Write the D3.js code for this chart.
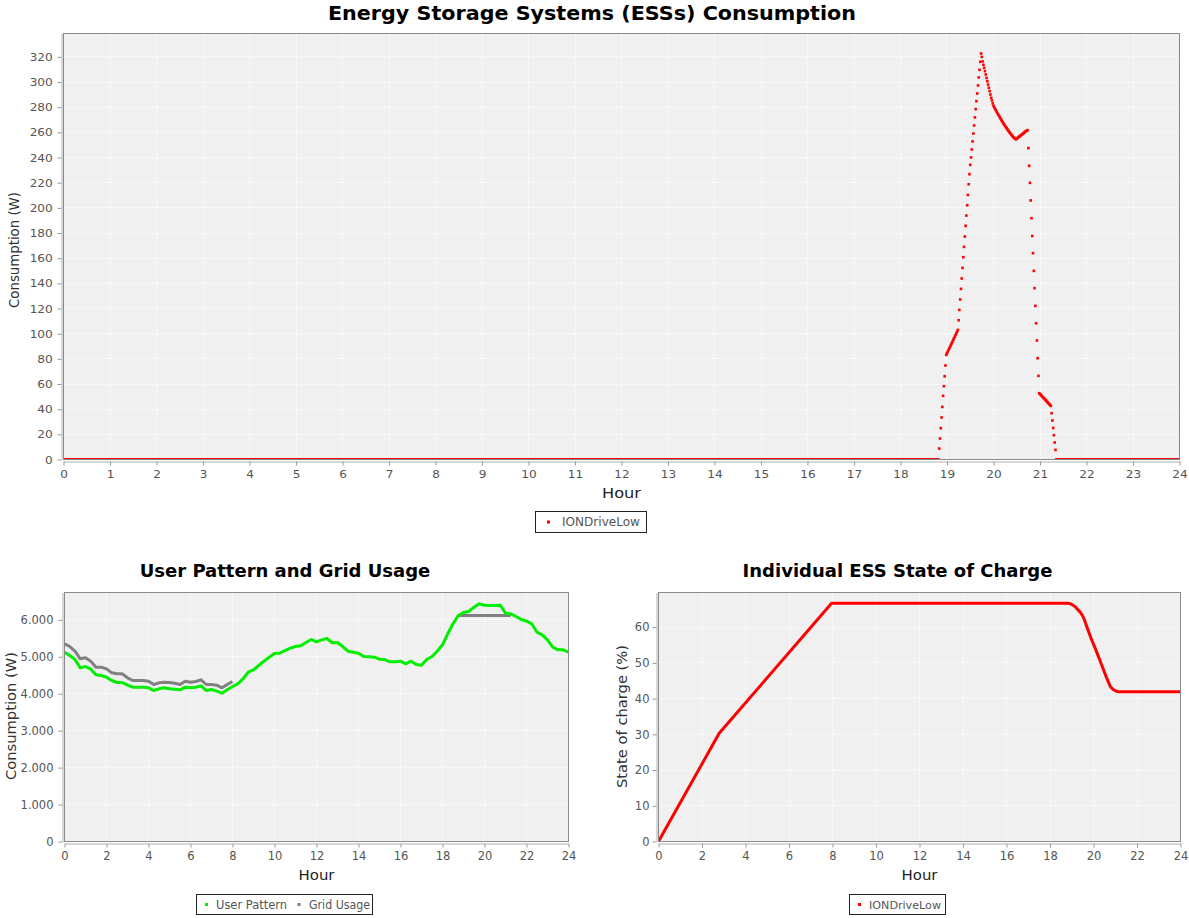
<!DOCTYPE html>
<html>
<head>
<meta charset="utf-8">
<script src="https://cdn.jsdelivr.net/npm/d3@7"></script>
<style>
  body { margin: 0; background: #ffffff; }
  svg { display: block; font-family: "DejaVu Sans", sans-serif; }
</style>
</head>
<body>
<svg id="chart" width="1189" height="918"></svg>
<script>
// ---------------------------------------------------------------------------
// Data
// ---------------------------------------------------------------------------

// ESS consumption is logged once per minute; the drive idles at 0 W except
// during the evening discharge window that starts at essActiveStart.
const essName = "IONDriveLow";
const minutesPerDay = 1440;
const idleWatts = 0;
const essActiveStart = 1130; // minute of day (18:50)
const essActiveWatts = [
  8.7, 16.7, 24.9, 33.4, 41.8, 50.6, 58.3, 66.2, 74.7,
  83.2, 84.5, 85.8, 87.1, 88.4, 89.7, 91.0, 92.3, 93.6, 95.0, 96.3, 97.6, 98.9, 100.2, 101.6, 103.0,
  110.7, 118.9, 127.2, 135.6, 143.9, 152.3, 160.8, 169.0, 177.2, 185.7, 193.9, 202.1, 210.3, 218.8, 226.8,
  234.2, 240.1, 246.4, 252.8, 259.1, 265.5, 271.9, 278.5, 284.8, 290.9, 297.3, 303.7, 309.7, 316.1, 322.7,
  320.0, 316.4, 313.7, 311.3, 308.7, 306.0, 303.3, 300.7, 298.0, 295.4, 292.8, 290.1, 287.5, 285.4, 283.0, 281.1,
  279.9, 278.7, 277.6, 276.5, 275.4, 274.3, 273.2, 272.1, 271.0, 270.0, 269.0, 268.0, 267.0, 266.0, 265.1,
  264.2, 263.3, 262.4, 261.5, 260.6, 259.8, 259.0, 258.2, 257.4, 256.7, 256.0, 255.4, 254.9, 254.5,
  255.0, 255.5, 256.0, 256.5, 257.0, 257.5, 258.0, 258.5, 259.0, 259.5, 260.0, 260.5, 261.0, 261.4, 261.8,
  247.5, 233.4, 219.9, 205.9, 191.8, 177.7, 164.0, 149.9, 136.2, 122.1, 108.3, 94.6, 80.5, 66.5,
  52.7, 52.0, 51.4, 50.7, 50.0, 49.4, 48.7, 48.0, 47.4, 46.7, 46.0, 45.3, 44.6, 44.0, 43.3, 42.6,
  36.8, 31.0, 25.1, 19.3, 13.5, 7.6
];

// Household load and grid draw, sampled every 15 minutes (97 samples, 0h..24h).
const sampleHours = d3.range(0, 97).map(k => k / 4);
const userPattern = [
  5123, 5034, 4925, 4700, 4736, 4663, 4511, 4493, 4447, 4357, 4303, 4303, 4231, 4176, 4176, 4176,
  4159, 4087, 4132, 4159, 4132, 4123, 4105, 4176, 4159, 4176, 4213, 4087, 4113, 4068, 4014, 4105,
  4195, 4267, 4403, 4583, 4646, 4763, 4880, 4988, 5088, 5096, 5169, 5232, 5277, 5295, 5386, 5467,
  5404, 5458, 5494, 5377, 5386, 5277, 5150, 5123, 5096, 5007, 4998, 4988, 4934, 4925, 4862, 4862,
  4880, 4809, 4880, 4790, 4772, 4925, 5007, 5150, 5323, 5621, 5892, 6116, 6198, 6225, 6341, 6432,
  6395, 6387, 6387, 6395, 6179, 6162, 6090, 6009, 5963, 5892, 5665, 5593, 5458, 5259, 5188, 5188,
  5123
];
// Grid draw only departs from the household load while the ESS charges
// (night) or discharges (evening peak); elsewhere it sits under the load line.
const gridUsage = [
  5350, 5277, 5150, 4944, 4971, 4880, 4718, 4718, 4673, 4565, 4538, 4538, 4430, 4357, 4357, 4357,
  4339, 4249, 4294, 4312, 4303, 4285, 4249, 4339, 4312, 4330, 4376, 4249, 4249, 4231, 4159, 4249,
  4330, null, null, null, null, null, null, null, null, null, null, null, null, null, null, null,
  null, null, null, null, null, null, null, null, null, null, null, null, null, null, null, null,
  null, null, null, null, null, null, null, null, null, null, null, 6116, 6116, 6116, 6116, 6116,
  6116, 6116, 6116, 6116, 6116, 6116, null, null, null, null, null, null, null, null, null, null,
  null
];

// State of charge of the ESS (%).
const socHours   = [0, 2.79, 7.96, 18.84, 18.95, 19.07, 19.18, 19.28, 19.39, 19.49, 19.58, 19.67, 19.90, 20.13, 20.36, 20.59, 20.77, 20.88, 20.97, 21.08, 21.20, 24];
const socPercent = [0, 30.3, 66.7, 66.7, 66.5, 66.1, 65.6, 64.9, 64.2, 63.3, 62.1, 60.5, 56.7, 53.3, 49.7, 46.0, 43.4, 42.7, 42.3, 42.0, 41.9, 41.9];

// Axis ticks
const hourTicksTop = d3.range(0, 25, 1);
const hourTicksBottom = d3.range(0, 25, 2);
const wattTicksTop = d3.range(0, 321, 20);
const wattTicksLoad = d3.range(0, 6001, 1000);
const socTicks = d3.range(0, 61, 10);

// ---------------------------------------------------------------------------
// Drawing
// ---------------------------------------------------------------------------
const svg = d3.select("#chart");
const FONT = "'DejaVu Sans', sans-serif";
const PLOT_BG = "#f0f0f0";
const RED = "#ff0000";
const GREEN = "#00ee00";
const GREY = "#808080";

const thousands = d3.formatLocale({ decimal: ",", thousands: ".", grouping: [3], currency: ["", ""] }).format(",d");

const px = v => Math.round(v - 0.5) + 0.5;

function drawPanel(p) {
  const x = d3.scaleLinear().domain([0, 24]).range([p.left, p.right]);
  const y = d3.scaleLinear().domain([0, p.yMax]).range([p.bottom, p.top]);
  const g = svg.append("g");

  g.append("rect")
    .attr("x", p.left).attr("y", p.top)
    .attr("width", p.right - p.left).attr("height", p.bottom - p.top)
    .attr("fill", PLOT_BG);

  const grid = g.append("g")
    .attr("stroke", "#ffffff").attr("stroke-width", 1).attr("stroke-dasharray", "2,2");
  grid.selectAll("line.gx").data(p.xTicks.slice(1, -1)).join("line")
    .attr("class", "gx")
    .attr("x1", d => px(x(d))).attr("x2", d => px(x(d)))
    .attr("y1", p.top).attr("y2", p.bottom);
  grid.selectAll("line.gy").data(p.yTicks.slice(1)).join("line")
    .attr("class", "gy")
    .attr("y1", d => px(y(d))).attr("y2", d => px(y(d)))
    .attr("x1", p.left).attr("x2", p.right);

  // Axes
  const xa = g.append("g")
    .attr("transform", `translate(0,${p.bottom + 2})`)
    .call(d3.axisBottom(x).tickValues(p.xTicks).tickSize(4).tickSizeOuter(0)
      .tickPadding(p.xPad).tickFormat(d3.format("d")));
  const ya = g.append("g")
    .attr("transform", `translate(${p.left - 2},0)`)
    .call(d3.axisLeft(y).tickValues(p.yTicks).tickSize(4).tickSizeOuter(0)
      .tickPadding(p.yPad).tickFormat(p.yFormat));
  [xa, ya].forEach(a => {
    a.select(".domain").attr("stroke", "#b0b0b0");
    a.selectAll(".tick line").attr("stroke", "#999999");
    a.selectAll(".tick text")
      .attr("fill", "#555555")
      .attr("font-family", FONT)
      .attr("font-size", p.tickFont)
      .attr("transform", `scale(${p.sx},1)`);
  });

  // Clip region for the series
  const clipId = "clip" + Math.round(p.left);
  svg.append("clipPath").attr("id", clipId)
    .append("rect")
    .attr("x", p.left).attr("y", p.top)
    .attr("width", p.right - p.left).attr("height", p.bottom - p.top);

  const layer = g.append("g").attr("clip-path", `url(#${clipId})`);
  p.series(layer, x, y);

  g.append("rect")
    .attr("x", p.left).attr("y", p.top)
    .attr("width", p.right - p.left).attr("height", p.bottom - p.top)
    .attr("fill", "none").attr("stroke", "#8a8a8a").attr("stroke-width", 1);

  return { x, y, g };
}

function text(str, x, y, o) {
  const t = svg.append("text")
    .attr("x", x).attr("y", y)
    .attr("font-family", FONT)
    .attr("font-size", o.size)
    .attr("font-weight", o.bold ? "bold" : "normal")
    .attr("fill", o.fill || "#000")
    .attr("text-anchor", o.anchor || "middle")
    .text(str);
  if (o.length) t.attr("textLength", o.length).attr("lengthAdjust", "spacingAndGlyphs");
  if (o.rotate) {
    t.attr("x", 0).attr("y", 0).attr("transform", `translate(${x},${y}) rotate(-90)`);
  }
  return t;
}

function legend(box, items) {
  svg.append("rect")
    .attr("x", box.x).attr("y", box.y).attr("width", box.w).attr("height", box.h)
    .attr("fill", "#ffffff").attr("stroke", "#222222").attr("stroke-width", 1);
  items.forEach(it => {
    svg.append("rect")
      .attr("x", it.mx - 1.5).attr("y", box.y + box.h / 2 - 1.5)
      .attr("width", 3).attr("height", 3).attr("fill", it.color);
    text(it.label, it.tx, box.y + box.h / 2 + 4.4, { size: box.font, anchor: "start", fill: "#555555", length: it.len });
  });
}

// --- Top: ESS consumption (per-minute shapes) -------------------------------
const essSeries = d3.range(0, minutesPerDay + 1).map(m => {
  const i = m - essActiveStart;
  return { hour: m / 60, watts: (i >= 0 && i < essActiveWatts.length) ? essActiveWatts[i] : idleWatts };
});

drawPanel({
  left: 63.5, right: 1179.5, top: 33.5, bottom: 459.5, yMax: 338.6,
  xTicks: hourTicksTop, yTicks: wattTicksTop, yFormat: d3.format("d"),
  xPad: 4.5, yPad: 4, tickFont: 11, sx: 1.1,
  series(layer, x, y) {
    const s = 2.6;
    layer.selectAll("rect.ess").data(essSeries).join("rect")
      .attr("class", "ess")
      .attr("x", d => x(d.hour) - s / 2).attr("y", d => y(d.watts) - s / 2)
      .attr("width", s).attr("height", s)
      .attr("fill", RED);
  }
});

text("Energy Storage Systems (ESSs) Consumption", 592, 20, { size: 19, bold: true, length: 528 });
text("Hour", 621.5, 498, { size: 14.5, fill: "#222222", length: 39 });
text("Consumption (W)", 19, 250, { size: 14, fill: "#333333", rotate: true, length: 116 });
legend({ x: 535.5, y: 511.5, w: 111, h: 21, font: 12 },
  [{ label: essName, color: RED, mx: 548.5, tx: 562, len: 78 }]);

// --- Bottom left: user pattern vs grid usage ---------------------------------
drawPanel({
  left: 64.5, right: 568.5, top: 592.5, bottom: 841.5, yMax: 6739,
  xTicks: hourTicksBottom, yTicks: wattTicksLoad, yFormat: thousands,
  xPad: 4, yPad: 5, tickFont: 11.5, sx: 1.0,
  series(layer, x, y) {
    const line = d3.line()
      .defined(d => d.v !== null)
      .x(d => x(d.h)).y(d => y(d.v));
    const grid = sampleHours.map((h, i) => ({ h, v: gridUsage[i] }));
    const user = sampleHours.map((h, i) => ({ h, v: userPattern[i] }));
    layer.append("path").datum(grid).attr("d", line)
      .attr("fill", "none").attr("stroke", GREY).attr("stroke-width", 3).attr("stroke-linejoin", "round");
    layer.append("path").datum(user).attr("d", line)
      .attr("fill", "none").attr("stroke", GREEN).attr("stroke-width", 3).attr("stroke-linejoin", "round");
  }
});

text("User Pattern and Grid Usage", 285, 577, { size: 18, bold: true });
text("Hour", 316.5, 880, { size: 14.5, fill: "#222222", length: 36 });
text("Consumption (W)", 15.5, 716, { size: 14, fill: "#333333", rotate: true, length: 128 });
legend({ x: 196.5, y: 894.5, w: 176, h: 20, font: 11.5 },
  [{ label: "User Pattern", color: GREEN, mx: 206.5, tx: 216, len: 71 },
   { label: "Grid Usage", color: GREY, mx: 299, tx: 309, len: 61 }]);

// --- Bottom right: state of charge ------------------------------------------
drawPanel({
  left: 658.5, right: 1180.5, top: 592.5, bottom: 841.5, yMax: 69.7,
  xTicks: hourTicksBottom, yTicks: socTicks, yFormat: d3.format("d"),
  xPad: 4, yPad: 3, tickFont: 11.5, sx: 1.0,
  series(layer, x, y) {
    const pts = socHours.map((h, i) => ({ h, v: socPercent[i] }));
    layer.append("path").datum(pts)
      .attr("d", d3.line().x(d => x(d.h)).y(d => y(d.v)))
      .attr("fill", "none").attr("stroke", RED).attr("stroke-width", 3).attr("stroke-linejoin", "round");
  }
});

text("Individual ESS State of Charge", 897.5, 577, { size: 18, bold: true });
text("Hour", 919.5, 880, { size: 14.5, fill: "#222222", length: 36 });
text("State of charge (%)", 627, 716.5, { size: 14, fill: "#333333", rotate: true, length: 143 });
legend({ x: 849.5, y: 894.5, w: 96, h: 20, font: 11 },
  [{ label: essName, color: RED, mx: 859.5, tx: 869, len: 72 }]);
</script>
</body>
</html>
